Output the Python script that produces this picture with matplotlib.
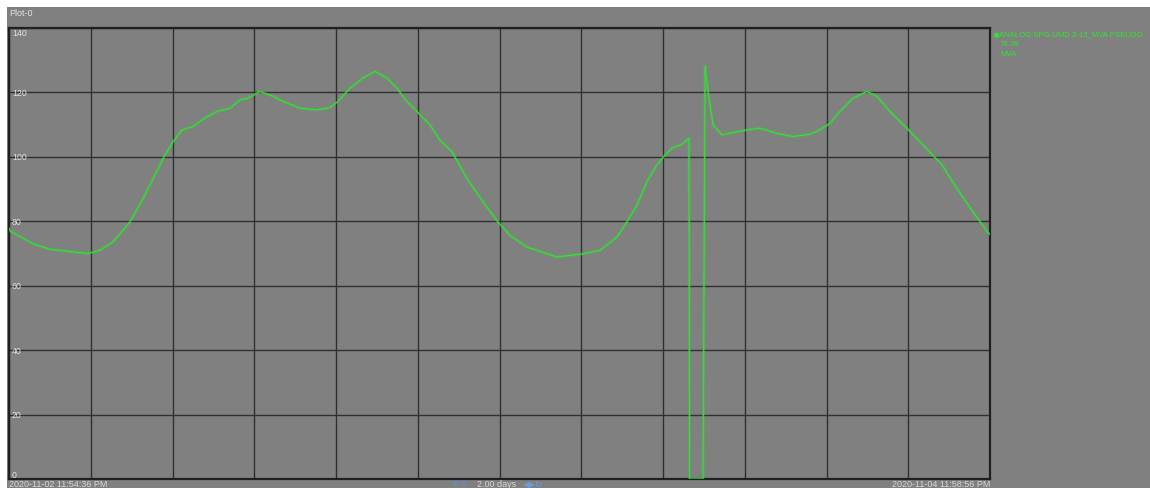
import matplotlib.pyplot as plt
import matplotlib.transforms as mtransforms
from matplotlib.patches import Rectangle
import numpy as np

# MVA trend, hours since 2020-11-02 11:54:36 PM
hours = [0.00, 0.05, 1.18, 2.01, 2.84, 3.87, 4.46, 5.10, 5.93, 6.57,
         7.06, 7.55, 8.04, 8.48, 9.02, 9.51, 10.19, 10.83, 11.32, 11.71,
         12.30, 12.94, 13.43, 14.26, 15.09, 15.73, 16.12, 16.71, 17.35, 17.94,
         18.52, 19.01, 19.50, 19.99, 20.63, 21.12, 21.71, 22.44, 23.23, 23.96,
         24.55, 25.38, 26.85, 28.13, 28.96, 29.79, 30.28, 30.77, 31.26, 31.75,
         32.15, 32.54, 32.98, 33.32, 33.35, 34.01, 34.11, 34.25, 34.50, 34.94,
         35.48, 36.21, 36.80, 37.63, 38.42, 39.25, 39.74, 40.23, 40.72, 41.36,
         42.04, 42.53, 43.17, 44.00, 44.79, 45.72, 46.45, 47.24, 47.97, 48.07]
mva = [77.8, 77.0, 73.0, 71.3, 70.7, 70.0, 71.0, 73.6, 79.8, 87.1,
       93.3, 99.5, 104.7, 108.4, 109.4, 111.7, 114.1, 115.1, 117.7, 118.2,
       120.3, 118.8, 117.2, 115.1, 114.6, 115.3, 117.2, 121.3, 124.5, 126.5,
       124.5, 121.3, 117.2, 114.1, 109.9, 105.2, 101.6, 93.3, 86.0, 79.8,
       75.6, 72.0, 68.9, 69.9, 71.0, 75.1, 79.8, 85.0, 92.3, 97.5,
       100.6, 102.9, 103.9, 105.8, 0.0, 0.0, 128.3, 120.3, 109.9, 106.8,
       107.6, 108.4, 108.9, 107.3, 106.3, 107.0, 108.4, 110.4, 114.1, 118.2,
       120.3, 118.8, 114.1, 108.9, 103.7, 97.5, 90.2, 82.9, 76.5, 76.0]

y_ticks = [0, 20, 40, 60, 80, 100, 120, 140]
span_hours = 48.072
start_label = "2020-11-02 11:54:36 PM"
end_label = "2020-11-04 11:58:56 PM"
range_label = "2.00 days"
tag_name = "ANALOG:SPG-UMD 2-12_MVA PSEUDO"
tag_value = "76.39"
tag_unit = "MVA"

bg = '#808080'
grid_c = '#303030'
green = '#2ee62e'
txt_c = '#e2e2e2'
font = 'Liberation Sans'

W, H = 1150, 489
fig = plt.figure(figsize=(W / 100, H / 100), dpi=100, facecolor='white')
# gray panel behind the plot
fig.patches.append(Rectangle((7 / W, 0), 1 - 7 / W, 1 - 8 / H,
                             transform=fig.transFigure, facecolor=bg,
                             edgecolor='none', zorder=-5))

ax = fig.add_axes([9 / W, 9 / H, 981 / W, 451 / H])
ax.set_zorder(2)
ax.set_facecolor(bg)
ax.set_xlim(0, span_hours)
ax.set_ylim(0, 140)
ax.set_xticks(np.linspace(0, span_hours, 13))
ax.set_yticks(y_ticks)
ax.tick_params(length=0, labelbottom=False, labelleft=False)
ax.grid(True, color=grid_c, linewidth=1.0)
for s in ax.spines.values():
    s.set_color('#202020')
    s.set_linewidth(1.6)

# soft band under the trace for the noisy look, then the trace itself
ax.plot(hours, mva, color=green, linewidth=2.2, alpha=0.25, zorder=3)
ax.plot(hours, mva, color=green, linewidth=0.8, zorder=4)

# value labels inside the plot
trans = mtransforms.blended_transform_factory(ax.transAxes, ax.transData)
for v in y_ticks:
    va = 'center'
    if v == 140:
        va = 'top'
    elif v == 0:
        va = 'bottom'
    ax.text(0.003, v, str(v), transform=trans, ha='left', va=va,
            fontsize=6.3, color=txt_c, family=font, zorder=5)

fig.text(9 / W, 1 - 13 / H, "Plot-0", ha='left', va='center',
         fontsize=6.5, color=txt_c, family=font)

# time range along the bottom
fig.text(9 / W, 1 - 485 / H, start_label, ha='left', va='center',
         fontsize=6.5, color='#d8d8d8', family=font)
fig.text(990 / W, 1 - 485 / H, end_label, ha='right', va='center',
         fontsize=6.5, color='#d8d8d8', family=font)
fig.text(477 / W, 1 - 485 / H, range_label, ha='left', va='center',
         fontsize=6.5, color='#d8d8d8', family=font)
fig.text(452 / W, 1 - 484 / H, "\u2295 \u2296", ha='left', va='center',
         fontsize=5.5, color='#5a8fd8', family='DejaVu Sans')
fig.text(523 / W, 1 - 485 / H, "\u25c0\u25b6\u21bb", ha='left', va='center',
         fontsize=6, color='#6a9ae0', family='DejaVu Sans')

# tag legend on the right
fig.text(993 / W, 1 - 35 / H, "\u25a0", ha='left', va='center',
         fontsize=4, color=green, family='DejaVu Sans')
fig.text(999 / W, 1 - 35 / H, tag_name, ha='left', va='center',
         fontsize=5.6, color=green, family=font)
fig.text(1000 / W, 1 - 45 / H, tag_value, ha='left', va='center',
         fontsize=5.6, color=green, family=font)
fig.text(1000 / W, 1 - 55 / H, tag_unit, ha='left', va='center',
         fontsize=5.6, color=green, family=font)

fig.savefig('out.png', dpi=100, facecolor=fig.get_facecolor())
